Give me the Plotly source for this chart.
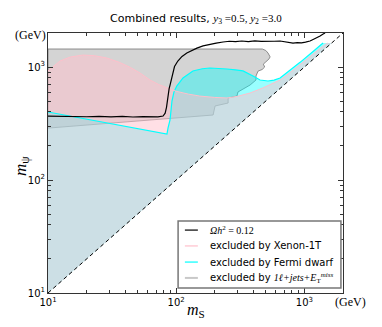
import numpy as np
import plotly.graph_objects as go

# relic density curve  (Omega h^2 = 0.12)
omega_x = [10, 13, 16, 20, 25, 31, 38, 46, 55, 64, 72, 79, 82, 84, 86, 88, 90, 92, 94, 97,
           103, 111, 121, 132, 145, 162, 183, 205, 232, 260, 290, 325, 365, 410, 460, 520, 580, 646, 700, 760,
           815, 880, 950, 1020, 1106, 1180, 1260, 1325, 1390, 1450]
omega_y = [368, 365, 367, 363, 366, 362, 365, 361, 364, 360, 362, 368, 390, 440, 550, 640, 710, 800, 900, 1010,
           1130, 1240, 1330, 1400, 1470, 1540, 1598, 1630, 1665, 1690, 1675, 1700, 1680, 1705, 1685, 1700, 1690, 1698, 1670, 1650,
           1630, 1645, 1635, 1660, 1698, 1760, 1820, 1880, 1950, 2000]

# Xenon-1T exclusion boundary (region below it down to the diagonal)
xenon_x = [10, 12.4, 14.9, 18.7, 23, 28.8, 36, 44, 52.2, 62.5, 73, 84.7, 100, 125, 153, 200, 249, 300, 377, 470,
           560, 646, 780, 950, 1150, 1350, 1520]
xenon_y = [923, 1130, 1225, 1276, 1260, 1201, 1100, 990, 885, 767, 700, 652, 610, 575, 553, 538, 532, 550, 589, 650,
           710, 767, 900, 1080, 1290, 1480, 1630]

# Fermi dwarf exclusion boundary
fermi_x = [10, 84.7, 86.3, 89.5, 92.7, 96, 101, 113, 135, 160, 183, 215, 249, 290, 332, 397, 451, 520, 580, 646,
           760, 925, 1150, 1397]
fermi_y = [400, 255, 288, 340, 500, 600, 679, 800, 923, 965, 980, 975, 960, 945, 923, 832, 767, 752, 765, 800,
           920, 1100, 1350, 1630]

# 1l + jets + MET exclusion contour (closed)
lhc_x = [10, 470, 500, 520, 540, 530, 500, 478, 490, 468, 435, 430, 419, 419, 377, 303, 298, 254, 254, 201, 194, 10, 10]
lhc_y = [1443, 1443, 1400, 1330, 1230, 1180, 1110, 1060, 1000, 950, 920, 880, 832, 767, 693, 601, 554, 532, 480, 452, 376, 288, 1443]

# diagonal m_psi = m_S
diag = [10, 2000]
tick_vals = [10, 100, 1000]
tick_text = ["10<sup>1</sup>", "10<sup>2</sup>", "10<sup>3</sup>"]
minor_vals = [m * d for d in [10, 100, 1000] for m in range(2, 10) if m * d <= 2000]

serif = "font-family:'Liberation Serif'"
legend_labels = [
    f"<span style=\"{serif}\"><i>Ωh</i><sup>2</sup> = 0.12</span>",
    "excluded by Xenon-1T",
    "excluded by Fermi dwarf",
    f"excluded by <span style=\"{serif}\"><i>1ℓ+jets+E</i><sub>T</sub><sup><i>miss</i></sup></span>",
]
legend_colors = ["black", "#ffc0cb", "#00ffff", "#c8c8c8"]

fig = go.Figure()

# filled regions (translucent, overlapping)
fig.add_trace(go.Scatter(x=lhc_x, y=lhc_y, fill="toself", fillcolor="rgba(169,169,169,0.5)",
                         mode="lines", line=dict(color="rgba(130,130,130,0.9)", width=1),
                         showlegend=False, hoverinfo="skip"))
fig.add_trace(go.Scatter(x=fermi_x + [1630] + diag[:1], y=fermi_y + [1630] + diag[:1], fill="toself",
                         fillcolor="rgba(0,255,255,0.4)", mode="lines", line=dict(width=0),
                         showlegend=False, hoverinfo="skip"))
fig.add_trace(go.Scatter(x=xenon_x + [1630] + diag[:1], y=xenon_y + [1630] + diag[:1], fill="toself",
                         fillcolor="rgba(255,192,203,0.5)", mode="lines", line=dict(width=0),
                         showlegend=False, hoverinfo="skip"))

# boundary lines
fig.add_trace(go.Scatter(x=fermi_x, y=fermi_y, mode="lines", line=dict(color="#00ffff", width=1.2),
                         showlegend=False, hoverinfo="skip"))
fig.add_trace(go.Scatter(x=xenon_x, y=xenon_y, mode="lines", line=dict(color="#ffc0cb", width=1),
                         showlegend=False, hoverinfo="skip"))
fig.add_trace(go.Scatter(x=omega_x, y=omega_y, mode="lines", line=dict(color="black", width=1.2),
                         showlegend=False))
fig.add_trace(go.Scatter(x=diag, y=diag, mode="lines", line=dict(color="black", width=1, dash="4px,3px"),
                         showlegend=False, hoverinfo="skip"))

axis_common = dict(
    type="log", range=[1, np.log10(2000)], tickmode="array", tickvals=tick_vals, ticktext=tick_text,
    ticks="inside", ticklen=5, tickcolor="#333", showline=True, linecolor="#333", linewidth=1,
    mirror="allticks", showgrid=False, zeroline=False,
    tickfont=dict(family="DejaVu Sans", size=10, color="black"),
    minor=dict(tickmode="array", tickvals=minor_vals, ticks="inside", ticklen=3, tickcolor="#333", showgrid=False),
)
fig.update_xaxes(**axis_common)
fig.update_yaxes(**axis_common)

# hand-made legend box (matplotlib style, tight rows)
shapes = [dict(type="rect", xref="paper", yref="paper", x0=0.441, x1=0.993, y0=0.019, y1=0.277,
               fillcolor="white", line=dict(color="#777", width=1.5))]
annotations = []
row_y = [0.242, 0.181, 0.119, 0.058]
for ry, col, lab in zip(row_y, legend_colors, legend_labels):
    shapes.append(dict(type="line", xref="paper", yref="paper", x0=0.464, x1=0.508, y0=ry, y1=ry,
                       line=dict(color=col, width=2 if col == "#c8c8c8" else 1.2)))
    annotations.append(dict(text=lab, x=0.542, y=ry, xref="paper", yref="paper", xanchor="left",
                            yanchor="middle", showarrow=False, font=dict(family="DejaVu Sans", size=10)))


def label(text, x, y, size, family="Liberation Serif", angle=0):
    return dict(text=text, x=x, y=y, xref="paper", yref="paper", xanchor="center", yanchor="middle",
                showarrow=False, textangle=angle, font=dict(family=family, size=size))


annotations += [
    label("Combined results, <span style=\"font-family:'Liberation Serif'\"><i>y</i><sub>3</sub> =0.5, "
          "<i>y</i><sub>2</sub> =3.0</span>", 0.5, 1.052, 11, family="DejaVu Sans"),
    label("(GeV)", -0.058, 0.992, 12),
    label("(GeV)", 1.025, -0.035, 12),
    label("<i>m</i><sub>S</sub>", 0.5, -0.068, 16),
    label("<i>m</i><sub>ψ</sub>", -0.09, 0.49, 17, angle=-90),
]

fig.update_layout(
    width=366, height=311,
    margin=dict(l=40, r=31, t=25, b=26),
    plot_bgcolor="white", paper_bgcolor="white",
    font=dict(family="DejaVu Sans", size=10, color="black"),
    showlegend=False,
    shapes=shapes,
    annotations=annotations,
)

fig.write_html("out.html")
